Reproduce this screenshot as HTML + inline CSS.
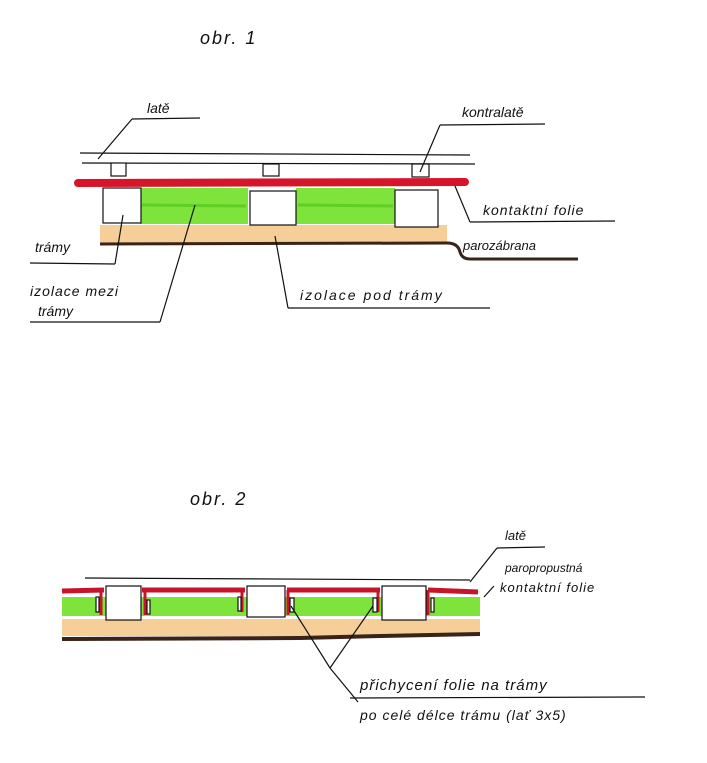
<!DOCTYPE html>
<html><head><meta charset="utf-8"><style>
html,body{margin:0;padding:0;background:#fff;}
svg text{font-family:"Liberation Sans","DejaVu Sans",sans-serif;font-style:italic;fill:#111;}
</style></head><body>
<svg width="707" height="758" viewBox="0 0 707 758" xmlns="http://www.w3.org/2000/svg">
<g stroke="#111" stroke-width="1.2" fill="none">
<!-- FIG 1 -->
<text x="200" y="44" font-size="18" stroke="none" letter-spacing="2">obr. 1</text>
<line x1="80" y1="153" x2="470" y2="155"/>
<line x1="82" y1="163" x2="475" y2="164"/>
<rect x="111" y="163" width="15" height="13" fill="#fff"/>
<rect x="263" y="164" width="16" height="12" fill="#fff"/>
<rect x="412" y="164" width="17" height="13" fill="#fff"/>
<rect x="140" y="188" width="108" height="36" fill="#7ee33a" stroke="none"/>
<rect x="296" y="188" width="99" height="36" fill="#7ee33a" stroke="none"/>
<line x1="142" y1="205" x2="246" y2="206" stroke="#5fcf25" stroke-width="3"/>
<line x1="298" y1="205" x2="393" y2="206" stroke="#5fcf25" stroke-width="3"/>
<rect x="100" y="225" width="347" height="19" fill="#f6cf98" stroke="none"/>
<line x1="78" y1="183" x2="465" y2="182" stroke="#d6142a" stroke-width="8" stroke-linecap="round"/>
<rect x="103" y="188" width="38" height="35" fill="#fff"/>
<rect x="250" y="191" width="46" height="34" fill="#fff"/>
<rect x="395" y="190" width="43" height="37" fill="#fff"/>
<path d="M100 244 L447 243 Q458 243 460 252 Q462 259 470 259 L578 259" stroke="#3a2318" stroke-width="3"/>
<text x="147" y="113" font-size="14" stroke="none">latě</text>
<line x1="132" y1="119" x2="200" y2="118"/>
<line x1="132" y1="119" x2="98" y2="159"/>
<text x="462" y="117" font-size="14" stroke="none">kontralatě</text>
<line x1="440" y1="125" x2="545" y2="124"/>
<line x1="440" y1="125" x2="420" y2="172"/>
<text x="483" y="215" font-size="14" stroke="none" letter-spacing="1">kontaktní  folie</text>
<line x1="470" y1="222" x2="615" y2="221"/>
<line x1="470" y1="222" x2="455" y2="186"/>
<text x="463" y="250" font-size="13" stroke="none">parozábrana</text>
<text x="35" y="252" font-size="14" stroke="none">trámy</text>
<line x1="30" y1="263" x2="115" y2="264"/>
<line x1="115" y1="264" x2="123" y2="215"/>
<text x="30" y="296" font-size="14" stroke="none" letter-spacing="1">izolace mezi</text>
<text x="38" y="316" font-size="14" stroke="none">trámy</text>
<line x1="30" y1="322" x2="160" y2="322"/>
<line x1="160" y1="322" x2="195" y2="205"/>
<text x="300" y="300" font-size="14" stroke="none" letter-spacing="2">izolace  pod  trámy</text>
<line x1="288" y1="308" x2="490" y2="308"/>
<line x1="288" y1="308" x2="275" y2="236"/>

<!-- FIG 2 -->
<text x="190" y="505" font-size="18" stroke="none" letter-spacing="2">obr. 2</text>
<line x1="85" y1="578" x2="470" y2="580"/>
<rect x="62" y="597" width="418" height="19" fill="#7ee33a" stroke="none"/>
<rect x="62" y="619" width="418" height="17" fill="#f6cf98" stroke="none"/>
<path d="M62 639 L300 638 L380 636 L480 634" stroke="#3a2318" stroke-width="4"/>
<g stroke="#c8142a" stroke-width="5">
<line x1="62" y1="591" x2="104" y2="590"/>
<line x1="142" y1="590" x2="245" y2="590"/>
<line x1="287" y1="590" x2="380" y2="590"/>
<line x1="428" y1="590" x2="478" y2="592"/>
<line x1="101" y1="590" x2="101" y2="615" stroke-width="3"/>
<line x1="145" y1="590" x2="145" y2="615" stroke-width="3"/>
<line x1="242" y1="590" x2="242" y2="612" stroke-width="3"/>
<line x1="288" y1="590" x2="288" y2="615" stroke-width="3"/>
<line x1="378" y1="590" x2="378" y2="612" stroke-width="3"/>
<line x1="428" y1="590" x2="428" y2="615" stroke-width="3"/>
</g>
<rect x="106" y="586" width="35" height="34" fill="#fff"/>
<rect x="247" y="586" width="38" height="31" fill="#fff"/>
<rect x="382" y="586" width="44" height="34" fill="#fff"/>
<rect x="96" y="597" width="3" height="15" fill="#fff"/>
<rect x="147" y="600" width="3" height="14" fill="#fff"/>
<rect x="238" y="597" width="3" height="14" fill="#fff"/>
<rect x="290" y="598" width="4" height="14" fill="#fff"/>
<rect x="373" y="598" width="4" height="14" fill="#fff"/>
<rect x="431" y="598" width="3" height="14" fill="#fff"/>
<text x="505" y="540" font-size="13" stroke="none">latě</text>
<line x1="497" y1="548" x2="545" y2="547"/>
<line x1="497" y1="548" x2="470" y2="582"/>
<text x="505" y="572" font-size="12" stroke="none">paropropustná</text>
<text x="500" y="592" font-size="13" stroke="none" letter-spacing="1">kontaktní folie</text>
<line x1="494" y1="586" x2="484" y2="597"/>
<line x1="291" y1="606" x2="330" y2="668"/>
<line x1="373" y1="606" x2="330" y2="668"/>
<line x1="330" y1="668" x2="358" y2="702"/>
<text x="360" y="690" font-size="15" stroke="none" letter-spacing="1">přichycení folie na trámy</text>
<line x1="350" y1="698" x2="645" y2="697"/>
<text x="360" y="720" font-size="14" stroke="none" letter-spacing="1">po celé délce trámu (lať 3x5)</text>
</g>
</svg>
</body></html>
